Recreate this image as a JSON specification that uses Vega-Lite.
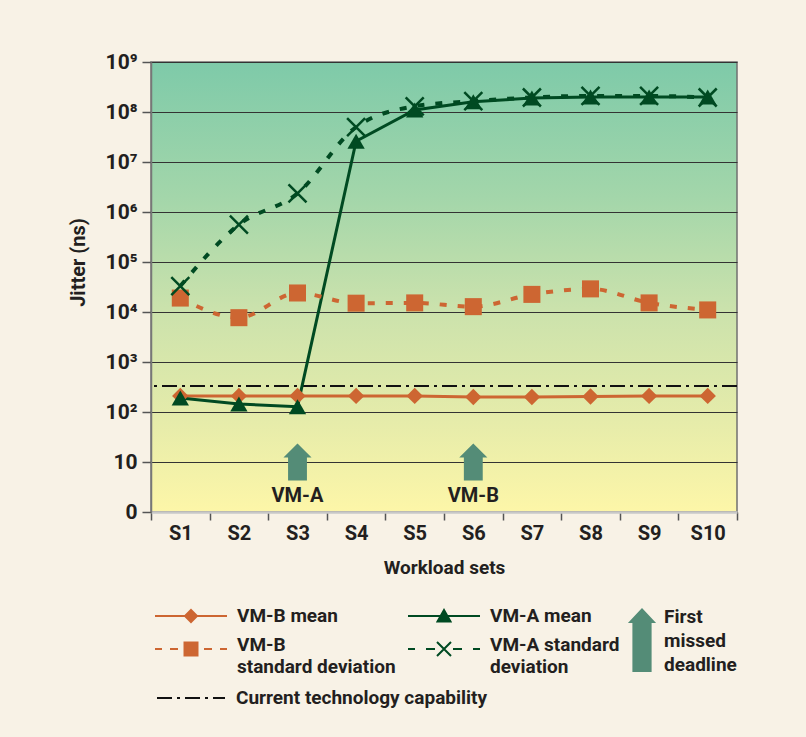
{
  "$schema": "https://vega.github.io/schema/vega-lite/v6.json",
  "width": 586,
  "height": 450,
  "autosize": "none",
  "padding": {"left": 151, "top": 62, "right": 69, "bottom": 225},
  "background": "#f8f2e6",
  "view": {
    "fill": {"gradient": "linear", "x1": 0, "y1": 0, "x2": 0, "y2": 1,
      "stops": [
        {"offset": 0, "color": "#7ecaa9"},
        {"offset": 0.3, "color": "#a3d6aa"},
        {"offset": 0.55, "color": "#cbe2ac"},
        {"offset": 0.8, "color": "#e6ecaa"},
        {"offset": 1, "color": "#fdf6a8"}
      ]},
    "stroke": "#707070",
    "strokeWidth": 1.5
  },
  "config": {
    "font": "Roboto",
    "axis": {"labelFont": "Roboto", "titleFont": "Roboto", "labelColor": "#231f20", "titleColor": "#231f20", "labelFontWeight": "bold", "titleFontWeight": "bold"},
    "legend": {"labelFont": "Roboto", "labelFontSize": 19, "labelFontWeight": "bold", "labelColor": "#231f20", "labelLimit": 400}
  },
  "datasets": {
    "jitter": [
      {"set": "S1", "series": "VM-B mean", "jitter": 210},
      {"set": "S2", "series": "VM-B mean", "jitter": 210},
      {"set": "S3", "series": "VM-B mean", "jitter": 210},
      {"set": "S4", "series": "VM-B mean", "jitter": 210},
      {"set": "S5", "series": "VM-B mean", "jitter": 210},
      {"set": "S6", "series": "VM-B mean", "jitter": 200},
      {"set": "S7", "series": "VM-B mean", "jitter": 200},
      {"set": "S8", "series": "VM-B mean", "jitter": 205},
      {"set": "S9", "series": "VM-B mean", "jitter": 210},
      {"set": "S10", "series": "VM-B mean", "jitter": 210},
      {"set": "S1", "series": "VM-A mean", "jitter": 190},
      {"set": "S2", "series": "VM-A mean", "jitter": 145},
      {"set": "S3", "series": "VM-A mean", "jitter": 128},
      {"set": "S4", "series": "VM-A mean", "jitter": 26000000},
      {"set": "S5", "series": "VM-A mean", "jitter": 110000000},
      {"set": "S6", "series": "VM-A mean", "jitter": 160000000},
      {"set": "S7", "series": "VM-A mean", "jitter": 190000000},
      {"set": "S8", "series": "VM-A mean", "jitter": 200000000},
      {"set": "S9", "series": "VM-A mean", "jitter": 200000000},
      {"set": "S10", "series": "VM-A mean", "jitter": 200000000},
      {"set": "S1", "series": "VM-B standard deviation", "jitter": 19000},
      {"set": "S2", "series": "VM-B standard deviation", "jitter": 7700},
      {"set": "S3", "series": "VM-B standard deviation", "jitter": 24000},
      {"set": "S4", "series": "VM-B standard deviation", "jitter": 15000},
      {"set": "S5", "series": "VM-B standard deviation", "jitter": 15200},
      {"set": "S6", "series": "VM-B standard deviation", "jitter": 12800},
      {"set": "S7", "series": "VM-B standard deviation", "jitter": 22500},
      {"set": "S8", "series": "VM-B standard deviation", "jitter": 29000},
      {"set": "S9", "series": "VM-B standard deviation", "jitter": 15200},
      {"set": "S10", "series": "VM-B standard deviation", "jitter": 11000},
      {"set": "S1", "series": "VM-A standard deviation", "jitter": 33000},
      {"set": "S2", "series": "VM-A standard deviation", "jitter": 560000},
      {"set": "S3", "series": "VM-A standard deviation", "jitter": 2350000},
      {"set": "S4", "series": "VM-A standard deviation", "jitter": 50000000},
      {"set": "S5", "series": "VM-A standard deviation", "jitter": 130000000},
      {"set": "S6", "series": "VM-A standard deviation", "jitter": 165000000},
      {"set": "S7", "series": "VM-A standard deviation", "jitter": 195000000},
      {"set": "S8", "series": "VM-A standard deviation", "jitter": 210000000},
      {"set": "S9", "series": "VM-A standard deviation", "jitter": 210000000},
      {"set": "S10", "series": "VM-A standard deviation", "jitter": 195000000}
    ],
    "arrows": [
      {"set": "S3", "who": "VM-A", "note": "First missed deadline", "jitter": 10},
      {"set": "S6", "who": "VM-B", "note": "First missed deadline", "jitter": 10}
    ],
    "capability": [
      {"label": "Current technology capability", "jitter": 330}
    ]
  },
  "layer": [
    {
      "data": {"name": "capability"},
      "mark": {"type": "rule", "strokeWidth": 2, "color": "#111111"},
      "encoding": {
        "y": {
          "field": "jitter", "type": "quantitative",
          "scale": {"type": "log", "domain": [1, 1000000000], "nice": false},
          "axis": {
            "values": [1, 10, 100, 1000, 10000, 100000, 1000000, 10000000, 100000000, 1000000000],
            "labelExpr": "datum.value <= 1 ? '0' : datum.value <= 10 ? '10' : '10' + ['', '', '²', '³', '⁴', '⁵', '⁶', '⁷', '⁸', '⁹'][round(log(datum.value) / LN10)]",
            "title": "Jitter (ns)",
            "grid": true, "gridColor": "#333333", "gridWidth": 1.2,
            "domainColor": "#777777", "domainWidth": 1.5,
            "tickColor": "#555555", "tickSize": 9, "tickWidth": 1.5,
            "labelPadding": 5, "labelFontSize": 21,
            "titleFontSize": 20, "titleX": -67, "titleY": 200, "titleAngle": -90,
            "titleAlign": "center", "titleBaseline": "alphabetic"
          }
        },
        "strokeDash": {
          "field": "label", "type": "nominal",
          "scale": {"range": [[15, 5, 3, 5]]},
          "legend": {
            "orient": "none", "legendX": 5, "legendY": 601, "title": null, "padding": 0,
            "symbolType": "stroke", "symbolSize": 4624, "symbolStrokeWidth": 2,
            "symbolStrokeColor": "#111111", "symbolOffset": 0, "labelOffset": 10
          }
        }
      }
    },
    {
      "data": {"name": "jitter"},
      "transform": [{"filter": "datum.series == 'VM-B mean' || datum.series == 'VM-A mean'"}],
      "mark": {"type": "line", "strokeWidth": 3},
      "encoding": {
        "x": {
          "field": "set", "type": "nominal", "bandPosition": 0.5,
          "scale": {"type": "band", "domain": ["S1", "S2", "S3", "S4", "S5", "S6", "S7", "S8", "S9", "S10"], "paddingInner": 0, "paddingOuter": 0},
          "axis": {
            "title": "Workload sets", "tickBand": "extent", "labelAngle": 0,
            "labelFontSize": 20, "labelPadding": 3, "tickSize": 8, "tickColor": "#555555", "tickWidth": 1.5,
            "domainColor": "#c8c8c8", "domainWidth": 2.5,
            "titleFontSize": 19, "titleY": 61, "titleBaseline": "alphabetic", "grid": false
          }
        },
        "y": {"field": "jitter", "type": "quantitative"},
        "stroke": {
          "field": "series", "type": "nominal",
          "scale": {"domain": ["VM-B mean", "VM-A mean", "VM-B standard deviation", "VM-A standard deviation"], "range": ["#cd6632", "#004a22", "#cd6632", "#004a22"]}
        }
      }
    },
    {
      "data": {"name": "jitter"},
      "transform": [{"filter": "datum.series == 'VM-B standard deviation' || datum.series == 'VM-A standard deviation'"}],
      "mark": {"type": "line", "strokeWidth": 4, "strokeDash": [7, 11], "interpolate": "monotone"},
      "encoding": {
        "x": {"field": "set", "type": "nominal", "bandPosition": 0.5},
        "y": {"field": "jitter", "type": "quantitative"},
        "stroke": {"field": "series", "type": "nominal"}
      }
    },
    {
      "data": {"name": "jitter"},
      "transform": [{"filter": "datum.series == 'VM-B mean'"}],
      "mark": {"type": "point", "filled": true, "size": 270, "opacity": 1, "strokeWidth": 0, "shape": "diamond"},
      "encoding": {
        "x": {"field": "set", "type": "nominal", "bandPosition": 0.5},
        "y": {"field": "jitter", "type": "quantitative"},
        "fill": {
          "field": "series", "type": "nominal",
          "scale": {"domain": ["VM-B mean", "VM-A mean", "VM-B standard deviation", "VM-A standard deviation"], "range": ["#cd6632", "#004a22", "#cd6632", "#004a22"]},
          "legend": {
            "orient": "none", "legendX": 4, "legendY": 543, "columns": 2, "direction": "horizontal", "columnPadding": 8, "rowPadding": 10,
            "title": null, "padding": 0, "symbolSize": 400, "symbolStrokeWidth": 2, "symbolOffset": 25,
            "labelOffset": 35, "symbolOpacity": 1,
            "labelExpr": "datum.label == 'VM-B standard deviation' ? ['VM-B', 'standard deviation'] : datum.label == 'VM-A standard deviation' ? ['VM-A standard', 'deviation'] : datum.label",
            "encode": {
              "symbols": {"update": {
                "shape": {"signal": "datum.value == 'VM-B mean' ? 'M-3.6,0H3.6M0,-0.6L0.6,0L0,0.6L-0.6,0Z' : datum.value == 'VM-A mean' ? 'M-3.6,0H3.6M0,-0.6L0.65,0.55H-0.65Z' : datum.value == 'VM-B standard deviation' ? 'M-3.6,0H-2.9M-2.1,0H-1.3M1.3,0H2.1M2.9,0H3.6M-0.65,-0.65H0.65V0.65H-0.65Z' : 'M-3.6,0H-2.9M-1.8,0H-0.9M0.9,0H1.8M2.9,0H3.6M-0.7,-0.7L0.7,0.7M-0.7,0.7L0.7,-0.7'"},
                "stroke": {"signal": "indexof(datum.value, 'VM-B') == 0 ? '#cd6632' : '#004a22'"},
                "fill": {"signal": "indexof(datum.value, 'VM-B') == 0 ? '#cd6632' : '#004a22'"},
                "strokeWidth": {"value": 2},
                "opacity": {"value": 1}
              }},
              "labels": {"update": {
                "lineHeight": {"value": 22},
                "dy": {"signal": "indexof(datum.value, 'standard') >= 0 ? -4 : 0"}
              }}
            }
          }
        }
      }
    },
    {
      "data": {"name": "jitter"},
      "transform": [{"filter": "datum.series == 'VM-A mean'"}],
      "mark": {"type": "point", "filled": true, "size": 300, "opacity": 1, "strokeWidth": 0, "shape": "triangle-up"},
      "encoding": {
        "x": {"field": "set", "type": "nominal", "bandPosition": 0.5},
        "y": {"field": "jitter", "type": "quantitative"},
        "fill": {"field": "series", "type": "nominal"}
      }
    },
    {
      "data": {"name": "jitter"},
      "transform": [{"filter": "datum.series == 'VM-B standard deviation'"}],
      "mark": {"type": "point", "filled": true, "size": 290, "opacity": 1, "strokeWidth": 0, "shape": "square"},
      "encoding": {
        "x": {"field": "set", "type": "nominal", "bandPosition": 0.5},
        "y": {"field": "jitter", "type": "quantitative"},
        "fill": {"field": "series", "type": "nominal"}
      }
    },
    {
      "data": {"name": "jitter"},
      "transform": [{"filter": "datum.series == 'VM-A standard deviation'"}],
      "mark": {"type": "point", "filled": false, "size": 324, "strokeWidth": 2.5, "opacity": 1, "shape": "M-1,-1L1,1M-1,1L1,-1"},
      "encoding": {
        "x": {"field": "set", "type": "nominal", "bandPosition": 0.5},
        "y": {"field": "jitter", "type": "quantitative"},
        "stroke": {"field": "series", "type": "nominal"}
      }
    },
    {
      "data": {"name": "arrows"},
      "mark": {"type": "point", "filled": true, "opacity": 1, "size": 1369, "shape": "M0,-1L0.76,-0.24H0.51V1H-0.51V-0.24H-0.76Z"},
      "encoding": {
        "x": {"field": "set", "type": "nominal", "bandPosition": 0.5},
        "y": {"field": "jitter", "type": "quantitative"},
        "color": {
          "field": "note", "type": "nominal",
          "scale": {"range": ["#548c77"]},
          "legend": {
            "orient": "none", "legendX": 459, "legendY": 546, "title": null, "padding": 0,
            "symbolType": "M0,-1L0.44,-0.53H0.3V1H-0.3V-0.53H-0.44Z", "symbolSize": 4096,
            "symbolStrokeWidth": 0, "symbolOffset": 0, "labelOffset": -10, "symbolOpacity": 1,
            "labelExpr": "split(datum.label, ' ')",
            "encode": {"labels": {"update": {"lineHeight": {"value": 24}, "dy": {"value": -23}}}}
          }
        }
      }
    },
    {
      "data": {"name": "arrows"},
      "mark": {"type": "text", "dy": 34, "fontSize": 20, "fontWeight": "bold", "color": "#231f20"},
      "encoding": {
        "x": {"field": "set", "type": "nominal", "bandPosition": 0.5},
        "y": {"field": "jitter", "type": "quantitative"},
        "text": {"field": "who"}
      }
    }
  ]
}
